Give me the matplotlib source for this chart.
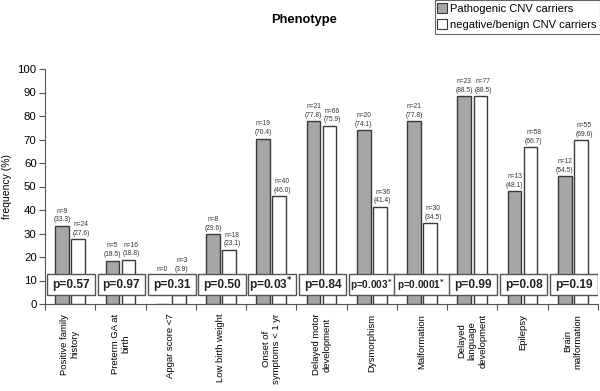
import matplotlib
matplotlib.use("Agg")
import matplotlib.pyplot as plt
from matplotlib.patches import Rectangle
from matplotlib.lines import Line2D
import numpy as np

plt.rcParams['font.family'] = ['Liberation Sans', 'DejaVu Sans']

# data
categories = ["Positive family\nhistory", "Preterm GA at\nbirth", "Apgar score <7",
              "Low birth weight", "Onset of\nsymptoms < 1 yr", "Delayed motor\ndevelopment",
              "Dysmorphism", "Malformation", "Delayed\nlanguage\ndevelopment",
              "Epilepsy", "Brain\nmalformation"]
patho_pct = [33.3, 18.5, 0.0, 29.6, 70.4, 77.8, 74.1, 77.8, 88.5, 48.1, 54.5]
patho_n = [9, 5, 0, 8, 19, 21, 20, 21, 23, 13, 12]
neg_pct = [27.6, 18.8, 3.9, 23.1, 46.0, 75.9, 41.4, 34.5, 88.5, 66.7, 69.6]
neg_n = [24, 16, 3, 18, 40, 66, 36, 30, 77, 58, 55]
p_values = ["0.57", "0.97", "0.31", "0.50", "0.03", "0.84", "0.003", "0.0001", "0.99", "0.08", "0.19"]
significant = [False, False, False, False, True, False, True, True, False, False, False]

gray = "#a6a6a6"
edge = "#3a3a3a"

fig = plt.figure(figsize=(6.0, 3.91), dpi=100)
ax = fig.add_axes([45 / 600, 1 - 304 / 391, 553 / 600, 235 / 391])

x = np.arange(len(categories))
bw = 0.27
off = 0.16
ax.bar(x - off, patho_pct, bw, color=gray, edgecolor=edge, linewidth=1.0, zorder=2)
ax.bar(x + off, neg_pct, bw, color="white", edgecolor=edge, linewidth=1.0, zorder=2)

box_lo, box_hi = 3.8, 12.6

# n / percentage labels above bars (kept clear of the p-value boxes)
for i in range(len(categories)):
    if patho_pct[i] > 0:
        txt = "n=%d\n(%.1f)" % (patho_n[i], patho_pct[i])
    else:
        txt = "n=%d" % patho_n[i]
    ax.text(x[i] - off, max(patho_pct[i] + 1.0, box_hi + 0.8), txt,
            ha="center", va="bottom", fontsize=4.8, color="#333333", linespacing=1.35)
    ax.text(x[i] + off + 0.06, max(neg_pct[i] + 1.0, box_hi + 0.8),
            "n=%d\n(%.1f)" % (neg_n[i], neg_pct[i]),
            ha="center", va="bottom", fontsize=4.8, color="#333333", linespacing=1.35)

# p-value boxes
for i in range(len(categories)):
    w = 1.15 if p_values[i] == "0.0001" else 0.95
    cx = x[i] + 0.02
    ax.add_patch(Rectangle((cx - w / 2, box_lo), w, box_hi - box_lo, facecolor="white",
                           edgecolor="#555555", linewidth=1.0, zorder=3))
    size = 8.6 if len(p_values[i]) <= 4 else 7.2
    label = "p=" + p_values[i]
    if significant[i]:
        label += r"$^{\mathbf{*}}$"
        cx -= 0.03
    ax.text(cx, 8.2, label, ha="center", va="center", fontsize=size,
            fontweight="bold", color="#222222", zorder=4)

ax.set_xlim(-0.5, len(categories) - 0.5)
ax.set_ylim(0, 100)
ax.set_yticks(np.arange(0, 101, 10))
ax.tick_params(axis="y", labelsize=8.2, length=4, width=0.8, color="#555555", pad=2)
ax.set_xticks(x)
ax.set_xticklabels(categories, rotation=90, fontsize=6.8, ha="center", va="top",
                   multialignment="center")
ax.tick_params(axis="x", length=0, pad=7)
ax.set_xticks(np.arange(-0.5, len(categories), 1.0), minor=True)
ax.tick_params(axis="x", which="minor", length=4, width=0.8, color="#555555")
ax.spines["top"].set_visible(False)
ax.spines["right"].set_visible(False)
ax.spines["left"].set_color("#555555")
ax.spines["bottom"].set_color("#555555")
ax.set_ylabel("frequency (%)", fontsize=7.5, labelpad=4)

fig.text(304 / 600, 1 - 20 / 391, "Phenotype", ha="center", va="center",
         fontsize=9.3, fontweight="bold")

handles = [
    Line2D([], [], marker="s", linestyle="none", markersize=6.5, markerfacecolor=gray,
           markeredgecolor=edge, markeredgewidth=0.8),
    Line2D([], [], marker="s", linestyle="none", markersize=6.5, markerfacecolor="white",
           markeredgecolor=edge, markeredgewidth=0.8),
]
leg = fig.legend(handles, ["Pathogenic CNV carriers", "negative/benign CNV carriers"],
                 loc="upper right", bbox_to_anchor=(1.0, 1.0), fontsize=8,
                 frameon=True, fancybox=False, edgecolor="#666666", framealpha=1,
                 handlelength=0.6, handletextpad=0.35, borderpad=0.35, labelspacing=0.55,
                 borderaxespad=0.0)
leg.get_frame().set_linewidth(0.8)

fig.savefig("out.png", dpi=100)
